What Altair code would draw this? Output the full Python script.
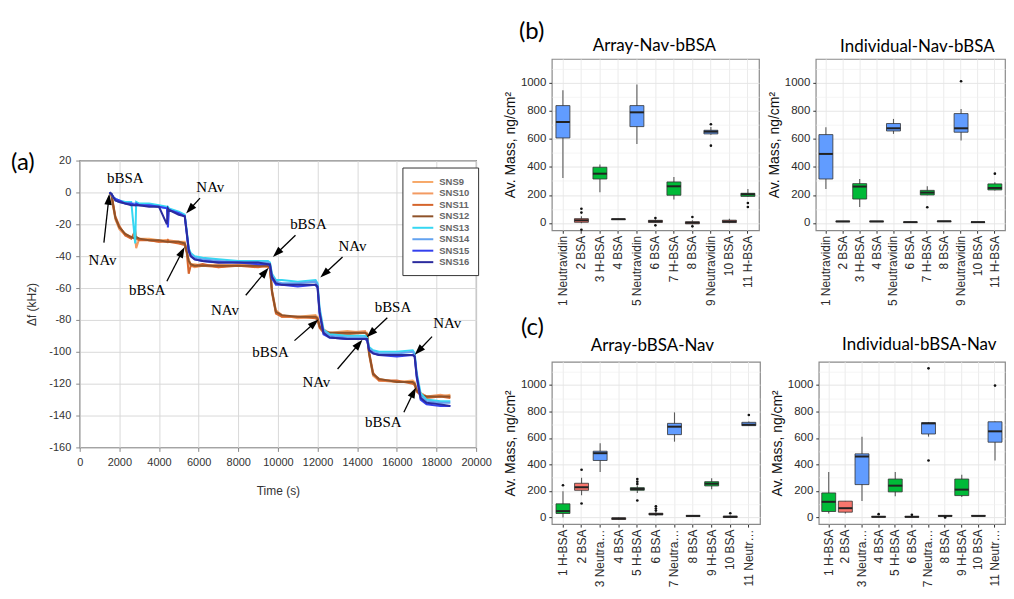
import math
import altair as alt
import pandas as pd

# ---------------- Panel (a): QCM frequency shift traces ----------------
TIME_S = [1500, 1600, 1700, 1800, 2000, 2300, 2600, 2800, 2850, 3000,
          3500, 4000, 4400, 4450, 4500, 5000, 5300, 5400, 5500, 5600,
          5800, 6200, 7000, 8000, 9000, 9500, 9600, 9700, 9900, 10200,
          11000, 11900, 12000, 12100, 12300, 12600, 13500, 14400, 14500, 14600,
          14800, 15100, 16000, 16800, 16900, 17000, 17200, 17500, 18200, 18700]

SERIES = ["SNS9", "SNS10", "SNS11", "SNS12", "SNS13", "SNS14", "SNS15", "SNS16"]

SNS9 = [0, -1, -9, -16, -22, -26, -28, -28, -28, -29, -29, -30, -30, -30, -31, -31, -31, -37, -42, -45,
        -45, -46, -45, -46, -46, -46, -47, -62, -75, -78, -78, -77, -79, -84, -86, -88, -87, -88, -88, -101,
        -114, -117, -119, -118, -119, -124, -126, -128, -128, -127]
SNS10 = [0, -2, -10, -17, -23, -27, -28, -29, -35, -29, -30, -31, -30, -31, -30, -31, -32, -36, -44, -46,
         -47, -46, -47, -45, -46, -47, -47, -61, -74, -77, -79, -78, -78, -83, -87, -89, -88, -87, -90, -102,
         -115, -118, -119, -119, -120, -123, -126, -128, -127, -128]
SNS11 = [0, -1, -8, -15, -21, -27, -29, -24, -29, -30, -30, -31, -31, -30, -31, -32, -33, -38, -51, -46,
         -46, -45, -47, -46, -47, -46, -48, -63, -76, -78, -78, -79, -80, -85, -88, -88, -89, -88, -89, -100,
         -113, -118, -118, -120, -121, -125, -127, -129, -128, -129]
SNS12 = [0, -1, -9, -16, -22, -26, -28, -29, -28, -29, -30, -30, -31, -31, -31, -31, -32, -37, -43, -45,
         -46, -46, -46, -46, -46, -46, -47, -62, -75, -77, -78, -78, -79, -84, -87, -88, -88, -88, -89, -101,
         -114, -117, -119, -119, -120, -124, -127, -128, -128, -128]
SNS13 = [0, -1, -3, -4, -5, -6, -6, -32, -6, -7, -7, -8, -9, -9, -10, -12, -14, -24, -35, -38,
         -40, -41, -42, -43, -43, -43, -44, -51, -55, -55, -56, -55, -57, -72, -86, -89, -90, -90, -91, -97,
         -99, -100, -100, -99, -101, -113, -126, -130, -131, -131]
SNS14 = [0, -1, -3, -5, -6, -7, -7, -7, -8, -8, -8, -9, -10, -10, -11, -13, -15, -25, -36, -39,
         -41, -42, -43, -44, -44, -44, -45, -52, -56, -57, -57, -56, -58, -74, -87, -90, -91, -91, -92, -98,
         -100, -101, -101, -100, -102, -114, -128, -131, -132, -132]
SNS15 = [0, -1, -3, -4, -5, -7, -7, -8, -7, -8, -8, -9, -10, -22, -11, -13, -15, -26, -37, -40,
         -42, -43, -44, -44, -45, -45, -46, -54, -58, -58, -59, -58, -60, -76, -89, -91, -92, -92, -93, -99,
         -101, -102, -103, -102, -103, -116, -130, -133, -134, -134]
SNS16 = [0, -1, -3, -5, -6, -7, -8, -8, -8, -8, -9, -9, -20, -10, -11, -14, -15, -25, -36, -40,
         -42, -43, -44, -44, -44, -45, -45, -53, -57, -58, -58, -58, -59, -75, -88, -91, -92, -92, -92, -99,
         -101, -102, -102, -102, -103, -115, -129, -132, -133, -134]
SERIES_VALUES = [SNS9, SNS10, SNS11, SNS12, SNS13, SNS14, SNS15, SNS16]
SERIES_COLORS = ["#F7A868", "#F39A62", "#D5652C", "#8F5229",
                 "#36D7F2", "#62A2F0", "#3340EE", "#2B2B9E"]

ANN_LABEL = ["bBSA", "NAv", "NAv", "bBSA", "bBSA", "NAv", "NAv", "bBSA", "bBSA", "NAv", "NAv", "bBSA"]
ANN_TIME = [2300, 1154, 6589, 3411, 11538, 7324, 13763, 9632, 15803, 11940, 18545, 15318]
ANN_DF = [8.9, -42.6, 3.3, -61.3, -19.6, -73.8, -33.4, -100.3, -71.8, -119.1, -82.2, -144.1]

ARROW_FROM_T = [1221, 6070, 4398, 10886, 8378, 13261, 10836, 15518, 13010, 17776, 16355]
ARROW_FROM_F = [-31.5, -3.6, -55.7, -26.9, -64.5, -40.5, -93.0, -78.6, -110.8, -90.5, -137.9]
ARROW_TO_T = [1488, 5401, 5268, 9783, 9498, 12174, 12007, 14515, 14231, 16940, 16940]
ARROW_TO_F = [-1.5, -12.7, -34.8, -40.1, -47.8, -53.0, -80.1, -90.5, -93.0, -101.4, -122.9]

X_TICKS_A = list(range(0, 20001, 2000))
Y_TICKS_A = list(range(-160, 21, 20))

# ---------------- Panels (b), (c): box plots ----------------
CATS_NAV_FIRST = ["1 Neutravidin", "2 BSA", "3 H-BSA", "4 BSA", "5 Neutravidin", "6 BSA",
                  "7 H-BSA", "8 BSA", "9 Neutravidin", "10 BSA", "11 H-BSA"]
CATS_BSA_FIRST = ["1 H-BSA", "2 BSA", "3 Neutravidin", "4 BSA", "5 H-BSA", "6 BSA",
                  "7 Neutravidin", "8 BSA", "9 H-BSA", "10 BSA", "11 Neutravidin"]

B1_LO = [321, -2, 219, 24, 564, 0, 167, -10, 630, -2, 188]
B1_Q1 = [607, 5, 314, 25, 688, 4, 198, -6, 636, 3, 190]
B1_MED = [721, 19, 352, 27, 790, 12, 262, 2, 652, 10, 205]
B1_Q3 = [838, 31, 398, 29, 838, 19, 293, 9, 662, 20, 212]
B1_HI = [948, 48, 417, 30, 988, 27, 329, 20, 685, 31, 243]
B1_OUT_CAT = ["2 BSA", "2 BSA", "2 BSA", "6 BSA", "6 BSA", "8 BSA", "8 BSA",
              "9 Neutravidin", "9 Neutravidin", "11 H-BSA", "11 H-BSA"]
B1_OUT_VAL = [102, 74, -48, 36, -17, 43, -24, 705, 552, 143, 114]

B2_LO = [243, 8, 114, 8, 636, 4, 198, 9, 588, 4, 232]
B2_Q1 = [314, 9, 171, 9, 657, 5, 200, 10, 648, 5, 236]
B2_MED = [493, 11, 260, 11, 676, 6, 217, 12, 676, 6, 250]
B2_Q3 = [631, 13, 281, 13, 710, 7, 233, 14, 781, 7, 279]
B2_HI = [683, 14, 314, 14, 743, 8, 262, 15, 814, 8, 290]
B2_OUT_CAT = ["7 H-BSA", "9 Neutravidin", "11 H-BSA"]
B2_OUT_VAL = [112, 1012, 352]

C1_LO = [0, 168, 343, -20, 185, 12, 572, 5, 212, -2, 690]
C1_Q1 = [30, 205, 430, -15, 205, 20, 625, 8, 238, 0, 693]
C1_MED = [48, 228, 485, -8, 215, 25, 685, 12, 255, 5, 700]
C1_Q3 = [103, 258, 500, -3, 225, 32, 710, 15, 270, 10, 718]
C1_HI = [198, 300, 560, 0, 240, 42, 793, 18, 295, 14, 725]
C1_OUT_CAT = ["1 H-BSA", "2 BSA", "2 BSA", "5 H-BSA", "5 H-BSA", "5 H-BSA", "5 H-BSA",
              "6 BSA", "6 BSA", "6 BSA", "10 BSA", "11 Neutravidin"]
C1_OUT_VAL = [243, 360, 105, 290, 270, 252, 128, 85, 68, 52, 32, 773]

C2_LO = [30, 30, 125, 0, 160, 0, 610, 10, 155, 8, 430]
C2_Q1 = [45, 40, 248, 2, 193, 2, 630, 10, 165, 10, 568]
C2_MED = [118, 70, 460, 5, 240, 5, 710, 12, 210, 12, 650]
C2_Q3 = [185, 123, 480, 8, 290, 8, 715, 14, 290, 14, 722]
C2_HI = [343, 125, 610, 10, 343, 10, 720, 16, 322, 15, 725]
C2_OUT_CAT = ["4 BSA", "6 BSA", "8 BSA", "7 Neutravidin", "7 Neutravidin", "11 Neutravidin"]
C2_OUT_VAL = [25, 20, 0, 1125, 430, 995]

BOX_TYPES = ["BSA", "H-BSA", "Neutravidin"]
BOX_COLORS = ["#F8766D", "#00BA38", "#619CFF"]
Y_TICKS_BOX = list(range(0, 1101, 100))
MASS_TITLE = "Av. Mass, ng/cm\u00b2"

ONE = pd.DataFrame({"k": [0]})


def anchor(x1, y1, x2, y2):
    # invisible layout helper that fixes the panel's bounding box
    return alt.Chart(ONE).mark_rule(opacity=0, strokeWidth=0.01).encode(
        x=alt.value(x1), y=alt.value(y1), x2=alt.value(x2), y2=alt.value(y2))


def label_text(txt, x, y, size, align, baseline, font="Lato"):
    return alt.Chart(pd.DataFrame({"lab": [txt]})).mark_text(
        font=font, fontSize=size, color="black", align=align, baseline=baseline
    ).encode(text="lab:N", x=alt.value(x), y=alt.value(y))


# ---------------- build panel (a) ----------------
A_W, A_H = 398, 288
rows = []
for name, vals in zip(SERIES, SERIES_VALUES):
    for t, f in zip(TIME_S, vals):
        rows.append({"series": name, "t": t, "f": f})
line_df = pd.DataFrame(rows)

x_a = alt.X("t:Q", title="Time (s)",
            scale=alt.Scale(domain=[0, 20000], nice=False, zero=False),
            axis=alt.Axis(values=X_TICKS_A, format="d", labelFlush=False, labelOverlap=False,
                          domain=False, tickSize=4, tickColor="#888", labelPadding=5,
                          labelFont="Liberation Sans", labelFontSize=11, labelColor="#333",
                          gridColor="#D9D9D9", titleFont="Liberation Sans", titleFontSize=12,
                          titleFontWeight="normal", titleColor="#333", titlePadding=18))
y_a = alt.Y("f:Q", title="\u0394f (kHz)",
            scale=alt.Scale(domain=[-160, 20], nice=False, zero=False),
            axis=alt.Axis(values=Y_TICKS_A, labelOverlap=False, labelFlush=False,
                          labelExpr="datum.value < 0 ? '-' + abs(datum.value) : '' + datum.value",
                          domain=False, tickSize=4, tickColor="#888", labelPadding=5,
                          labelFont="Liberation Sans", labelFontSize=11, labelColor="#333",
                          gridColor="#D9D9D9", titleFont="Liberation Sans", titleFontSize=12,
                          titleFontWeight="normal", titleColor="#333", titlePadding=10))

lines = alt.Chart(line_df).mark_line(strokeWidth=2).encode(
    x=x_a, y=y_a,
    color=alt.Color("series:N", sort=SERIES,
                    scale=alt.Scale(domain=SERIES, range=SERIES_COLORS),
                    legend=alt.Legend(title=None, orient="none", legendX=324, legendY=7,
                                      symbolType="M-2,0H2", symbolSize=110, symbolStrokeWidth=2,
                                      symbolOffset=6, labelOffset=10, labelFontSize=9.5,
                                      labelFont="Liberation Sans", labelColor="#666",
                                      labelFontWeight="bold", rowPadding=0.5, padding=8,
                                      strokeColor="#333", fillColor="white")),
    order=alt.Order("t:Q"))

sx = A_W / 20000.0
sy = A_H / 180.0
arrow_rows = []
head_rows = []
for t1, f1, t2, f2 in zip(ARROW_FROM_T, ARROW_FROM_F, ARROW_TO_T, ARROW_TO_F):
    dx = (t2 - t1) * sx
    dy = -(f2 - f1) * sy
    L = math.hypot(dx, dy)
    ux, uy = dx / L, dy / L
    back = 7.0
    ct = t2 - ux * back / sx
    cf = f2 + uy * back / sy
    ang = math.degrees(math.atan2(ux, -uy)) % 360
    arrow_rows.append({"t": t1, "f": f1, "t2": ct, "f2": cf})
    head_rows.append({"t": ct, "f": cf, "ang": ang})
arrow_df = pd.DataFrame(arrow_rows)
head_df = pd.DataFrame(head_rows)

arrow_lines = alt.Chart(arrow_df).mark_rule(color="black", strokeWidth=1.3).encode(
    x=x_a, y=y_a, x2="t2:Q", y2="f2:Q")
arrow_heads = alt.Chart(head_df).mark_point(
    shape="M0,-1.6L0.75,0.6L-0.75,0.6Z", filled=True, size=100, color="black", opacity=1
).encode(x=x_a, y=y_a, angle=alt.Angle("ang:Q", scale=None))

ann_df = pd.DataFrame({"t": ANN_TIME, "f": ANN_DF, "lab": ANN_LABEL})
ann_text = alt.Chart(ann_df).mark_text(font="Liberation Serif", fontSize=15, color="black").encode(
    x=x_a, y=y_a, text="lab:N")

panel_a = alt.layer(
    lines, arrow_lines, arrow_heads, ann_text,
    label_text("(a)", -69, -10, 24, "left", "top"),
    anchor(-71, -12, 420, 0)
).properties(width=A_W, height=A_H, view=alt.ViewBackground(stroke="#555", strokeWidth=1.2))

spacer = alt.Chart(ONE).mark_rule(opacity=0, strokeWidth=0.01).encode(
    x=alt.value(0), y=alt.value(0), x2=alt.value(1), y2=alt.value(88)
).properties(width=1, height=88, view=alt.ViewBackground(stroke="transparent", strokeWidth=0))

col_a = alt.vconcat(spacer, panel_a, spacing=1).resolve_scale(color="independent")


# ---------------- box plot panel builder ----------------
def box_panel(title, title_x, title_y, cats, lo, q1, med, q3, hi, out_cat, out_val,
              width, height, ydom, extra_layers, label_limit):
    types = [c.split(" ", 1)[1] for c in cats]
    df = pd.DataFrame({"cat": cats, "type": types, "lo": lo, "q1": q1,
                       "med": med, "q3": q3, "hi": hi})
    dfo = pd.DataFrame({"cat": out_cat, "val": out_val})
    major = "datum.value % 200 === 0"
    xenc = alt.X("cat:N", title=None, sort=cats,
                 scale=alt.Scale(domain=cats, paddingInner=0, paddingOuter=0.1),
                 axis=alt.Axis(labelAngle=270, labelFont="Liberation Sans", labelFontSize=12,
                               labelColor="#2b2b2b", tickSize=3, tickColor="#333",
                               labelPadding=2, domain=False, grid=True, gridColor="#EBEBEB",
                               gridWidth=1, bandPosition=0.5, labelOverlap=False,
                               labelLimit=label_limit))
    yscale = alt.Scale(domain=ydom, nice=False, zero=False)
    yaxis = alt.Axis(values=Y_TICKS_BOX, format="d", labelOverlap=False, labelFlush=False,
                     labelExpr=major + " ? datum.label : ''",
                     grid=True,
                     gridColor={"condition": {"test": major, "value": "#E6E6E6"}, "value": "#F1F1F1"},
                     gridWidth={"condition": {"test": major, "value": 1}, "value": 0.7},
                     tickColor={"condition": {"test": major, "value": "#333"}, "value": "transparent"},
                     tickSize=3, domain=False, labelFont="Liberation Sans", labelFontSize=11.5,
                     labelColor="#2b2b2b", labelPadding=3, titleFont="Liberation Sans",
                     titleFontSize=14, titleFontWeight="normal", titleColor="#111",
                     titlePadding=3)

    def yenc(field):
        return alt.Y(field, title=MASS_TITLE, scale=yscale, axis=yaxis)

    whisk = alt.Chart(df).mark_rule(color="#5a5a5a", strokeWidth=1.1).encode(
        x=xenc, y=yenc("lo:Q"), y2="hi:Q")
    box = alt.Chart(df).mark_bar(size=14, stroke="#333", strokeWidth=0.8).encode(
        x=xenc, y=yenc("q1:Q"), y2="q3:Q",
        fill=alt.Fill("type:N", scale=alt.Scale(domain=BOX_TYPES, range=BOX_COLORS), legend=None))
    medt = alt.Chart(df).mark_tick(thickness=2, size=14, color="#222", opacity=1).encode(
        x=xenc, y=yenc("med:Q"))
    outl = alt.Chart(dfo).mark_circle(size=7, color="#111", opacity=1).encode(
        x=xenc, y=yenc("val:Q"))
    ttl = label_text(title, title_x, title_y, 17, "center", "alphabetic")
    return alt.layer(whisk, box, medt, outl, ttl, *extra_layers).properties(
        width=width, height=height,
        view=alt.ViewBackground(stroke="#8a8a8a", strokeWidth=1.2))


YDOM_B = [-52, 1171]
YDOM_C = [-50, 1175]

b1 = box_panel("Array-Nav-bBSA", 103, -8, CATS_NAV_FIRST, B1_LO, B1_Q1, B1_MED, B1_Q3, B1_HI,
               B1_OUT_CAT, B1_OUT_VAL, 208, 172, YDOM_B,
               [label_text("(b)", -33, -39, 24, "left", "top"), anchor(-50, -49, 212, 250)], 140)
b2 = box_panel("Individual-Nav-bBSA", 102, -7, CATS_NAV_FIRST, B2_LO, B2_Q1, B2_MED, B2_Q3, B2_HI,
               B2_OUT_CAT, B2_OUT_VAL, 190, 172, YDOM_B,
               [anchor(-50, 0, 190, 250)], 140)
c1 = box_panel("Array-bBSA-Nav", 101, -11, CATS_BSA_FIRST, C1_LO, C1_Q1, C1_MED, C1_Q3, C1_HI,
               C1_OUT_CAT, C1_OUT_VAL, 209, 163, YDOM_C,
               [label_text("(c)", -31, -46, 24, "left", "top"), anchor(-50, -48, 212, 0)], 62)
c2 = box_panel("Individual-bBSA-Nav", 101, -12, CATS_BSA_FIRST, C2_LO, C2_Q1, C2_MED, C2_Q3, C2_HI,
               C2_OUT_CAT, C2_OUT_VAL, 187, 163, YDOM_C,
               [anchor(-50, 0, 187, 0)], 62)

col_r = alt.vconcat(
    alt.hconcat(b1, b2, spacing=1),
    alt.hconcat(c1, c2, spacing=4),
    spacing=4)

chart = alt.hconcat(col_a, col_r, spacing=2).resolve_scale(color="independent").properties(
    padding={"left": 0, "top": 0, "right": 0, "bottom": 0})

chart.save("out.html", embed_options={"renderer": "svg", "actions": False})
